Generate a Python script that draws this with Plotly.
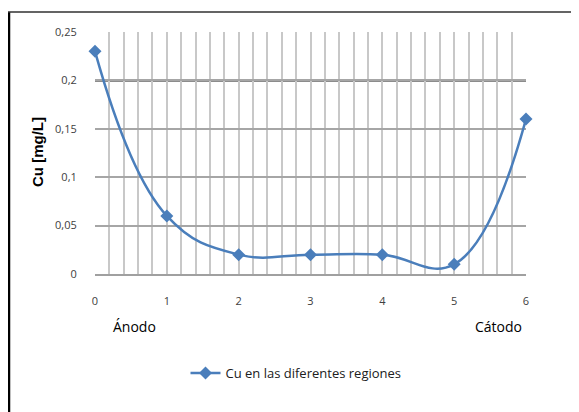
import plotly.graph_objects as go

# data
regions = [0, 1, 2, 3, 4, 5, 6]
cu_mg_l = [0.23, 0.06, 0.02, 0.02, 0.02, 0.01, 0.16]
y_ticks = [0, 0.05, 0.1, 0.15, 0.2, 0.25]
y_labels = ["0", "0,05", "0,1", "0,15", "0,2", "0,25"]
series_name = "Cu en las diferentes regiones"

# page body adds an 8px offset, so pixel positions are shifted by it
OFF = 8
W, H = 579, 412
L, T = 95 - OFF, 32 - OFF
R, B = W - (526 - OFF), H - (274 - OFF)
pw, ph = W - L - R, H - T - B


def px_x(x):
    return (x - OFF - L) / pw


def px_y(y):
    return (H - B - (y - OFF)) / ph


font = "Open Sans, Liberation Sans, sans-serif"

fig = go.Figure()
fig.add_trace(go.Scatter(
    x=regions, y=cu_mg_l, name=series_name,
    mode="lines+markers",
    line=dict(color="#4a7ebb", width=2.5, shape="spline", smoothing=1.2),
    marker=dict(symbol="diamond", size=10, color="#4a7ebb"),
    cliponaxis=False,
))

fig.update_layout(
    width=W, height=H,
    margin=dict(l=L, r=R, t=T, b=B),
    paper_bgcolor="white", plot_bgcolor="white",
    font=dict(family=font, size=10, color="#404040"),
    showlegend=True,
    legend=dict(orientation="h", x=px_x(296), y=px_y(373), xanchor="center",
                yanchor="middle", font=dict(size=13, color="#202020")),
    xaxis=dict(range=[0, 6], dtick=1, tick0=0, showgrid=True,
               gridcolor="#c8c8c8", gridwidth=1.5,
               minor=dict(dtick=0.2, showgrid=True, gridcolor="#c8c8c8", gridwidth=1.5),
               zeroline=False, showline=True, linecolor="#a0a0a0", linewidth=1.5,
               ticks="outside", ticklen=16, tickcolor="rgba(0,0,0,0)",
               tickfont=dict(size=11, color="#404040")),
    yaxis=dict(range=[0, 0.25], tickvals=y_ticks, ticktext=y_labels,
               showgrid=True, gridcolor="#a6a6a6", gridwidth=1.5,
               zeroline=False, showline=False,
               ticks="outside", ticklen=15, tickcolor="rgba(0,0,0,0)",
               tickfont=dict(size=11, color="#404040")),
)

# darker line at 0,2
fig.add_shape(type="line", xref="x", yref="y", x0=0, x1=6, y0=0.2, y1=0.2,
              line=dict(color="#8c8c8c", width=3), layer="below")
# outer chart border (left and top visible)
fig.add_shape(type="line", xref="paper", yref="paper",
              x0=px_x(9), x1=px_x(9), y0=px_y(12), y1=px_y(430),
              line=dict(color="black", width=2.5))
fig.add_shape(type="line", xref="paper", yref="paper",
              x0=px_x(8), x1=px_x(600), y0=px_y(12), y1=px_y(12),
              line=dict(color="#303030", width=1.5))

fig.add_annotation(text="<b>Cu [mg/L]</b>", xref="paper", yref="paper",
                   x=px_x(37), y=px_y(152), xanchor="center", yanchor="middle",
                   textangle=-90, showarrow=False,
                   font=dict(size=15, color="black", family="Liberation Sans, Arial, sans-serif"))
fig.add_annotation(text="Ánodo", xref="paper", yref="paper",
                   x=px_x(134), y=px_y(326), xanchor="center", yanchor="middle",
                   showarrow=False, font=dict(size=14, color="black"))
fig.add_annotation(text="Cátodo", xref="paper", yref="paper",
                   x=px_x(498), y=px_y(326), xanchor="center", yanchor="middle",
                   showarrow=False, font=dict(size=14, color="black"))

fig.write_html("out.html")
